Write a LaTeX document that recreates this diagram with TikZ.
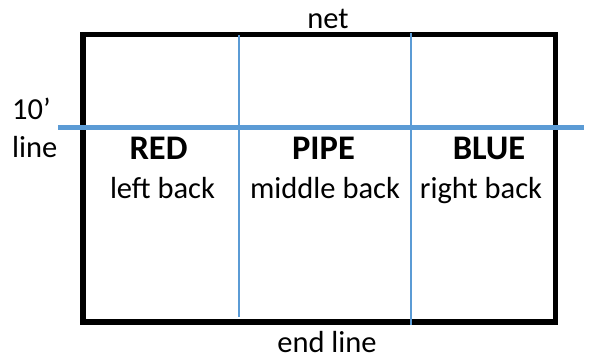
\documentclass[tikz,border=0pt]{standalone}
\usepackage{fontspec}
\setmainfont{Carlito}
\definecolor{officeblue}{RGB}{91,155,213}
\begin{document}
\begin{tikzpicture}[x=1pt,y=-1pt,
  court/.style={line width=5.5pt,draw=black},
  divider/.style={line width=1.2pt,draw=officeblue},
  tenft/.style={line width=5pt,draw=officeblue},
  lbl/.style={inner sep=0pt,anchor=base,font=\fontsize{30.5}{34}\selectfont},
  zone/.style={inner sep=0pt,anchor=base,font=\fontsize{34.5}{38}\selectfont\bfseries}]
\useasboundingbox (0,0) rectangle (590,359);
\coordinate (tl) at (83,34.5);
\coordinate (br) at (555.5,322);
\draw[court] (tl) rectangle (br);
\coordinate (d1t) at (239,35);
\coordinate (d1b) at (239,317);
\coordinate (d2t) at (411,33);
\coordinate (d2b) at (411,325);
\draw[divider] (d1t) -- (d1b);
\draw[divider] (d2t) -- (d2b);
\coordinate (bl) at (58,127.5);
\coordinate (brr) at (584,127.5);
\draw[tenft] (bl) -- (brr);
\node[lbl] (net) at (328,28) {net};
\node[lbl] (end) at (327,352.5) {end line};
\node[lbl,anchor=base west] (ten) at (12,119) {10’};
\node[lbl,anchor=base west] (line) at (12,157) {line};
\node[zone] (red) at (158.5,159) {RED};
\node[zone] (pipe) at (323.5,159) {PIPE};
\node[zone] (blue) at (489,159) {BLUE};
\node[lbl] (lb) at (162.5,198) {left back};
\node[lbl] (mb) at (325,198) {middle back};
\node[lbl] (rb) at (481,198) {right back};
\end{tikzpicture}
\end{document}
